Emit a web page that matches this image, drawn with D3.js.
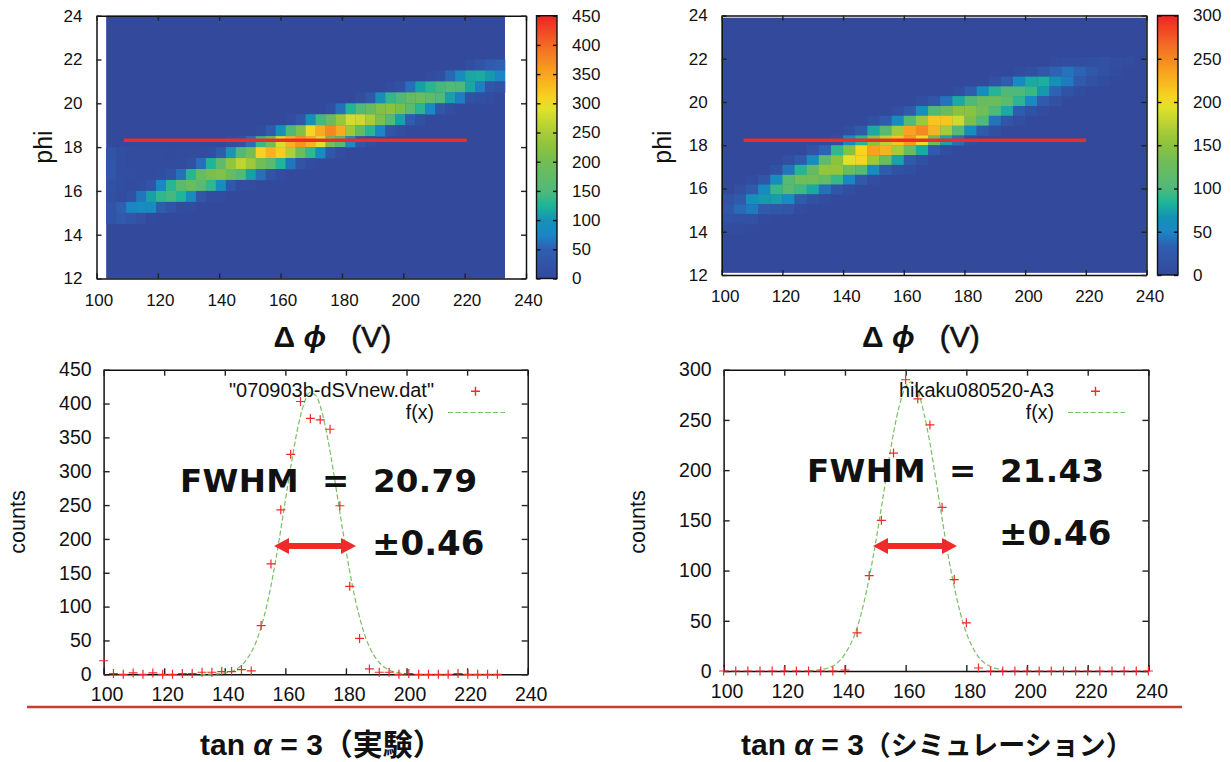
<!DOCTYPE html>
<html>
<head>
<meta charset="utf-8">
<script src="https://cdnjs.cloudflare.com/ajax/libs/d3/7.8.5/d3.min.js"></script>
<style>
  html, body { margin: 0; padding: 0; background: #fff; }
  text { font-family: "Liberation Sans", sans-serif; fill: #111; }
</style>
</head>
<body>
<div id="chart"></div>
<script>
// heat map bins: lower phi edge of each row, first filled column, then counts
var expPhi = [21.5, 21, 20.5, 20, 19.5, 19, 18.5, 18, 17.5, 17, 16.5, 16, 15.5, 15, 14.5];
var expStart = [36, 32, 28, 25, 22, 18, 15, 12, 0, 0, 0, 0, 0, 0, 0];
var expCounts = [
  [12, 25, 40, 50],
  [10, 15, 55, 85, 115, 118, 105, 75],
  [10, 20, 60, 110, 130, 145, 155, 150, 115, 70, 30, 22],
  [12, 35, 95, 135, 150, 180, 190, 172, 150, 110, 70, 20, 15, 10],
  [15, 60, 125, 155, 185, 215, 225, 205, 165, 130, 80, 30, 12],
  [10, 30, 95, 145, 190, 235, 280, 275, 250, 210, 155, 110, 45, 15],
  [10, 40, 95, 150, 215, 305, 345, 375, 345, 240, 175, 130, 75, 25, 12],
  [12, 18, 60, 140, 200, 285, 340, 365, 340, 290, 205, 160, 85, 30, 12],
  [25, 12, 8, 6, 6, 6, 5, 6, 6, 8, 12, 45, 105, 150, 200, 310, 340, 315, 255, 190, 135, 85, 35, 10],
  [30, 12, 8, 8, 6, 6, 6, 10, 18, 60, 125, 170, 230, 265, 240, 200, 165, 125, 65, 25, 10],
  [28, 12, 12, 10, 10, 12, 22, 60, 130, 185, 205, 215, 185, 155, 110, 60, 22, 10],
  [18, 12, 10, 12, 25, 75, 130, 165, 190, 165, 135, 90, 35, 10, 8],
  [15, 10, 18, 65, 110, 135, 145, 125, 85, 30, 10, 8],
  [25, 50, 75, 85, 85, 45, 25, 8, 8],
  [25, 42, 28, 18, 4]
];

var simPhi = [21.63, 21.18, 20.72, 20.27, 19.82, 19.36, 18.91, 18.45, 18.0, 17.55, 17.09, 16.64, 16.18, 15.73, 15.28, 14.82, 14.37, 13.92];
var simStart = [27, 24, 22, 19, 16, 14, 12, 10, 9, 7, 5, 4, 2, 1, 0, 0, 0, 0];
var simCounts = [
  [5, 8, 8, 10, 12, 8, 4],
  [6, 10, 22, 35, 42, 35, 22, 12, 5],
  [12, 30, 55, 78, 80, 65, 45, 25, 12, 5],
  [8, 30, 60, 85, 100, 100, 92, 70, 35, 15, 5],
  [8, 18, 42, 78, 100, 122, 125, 112, 88, 55, 25, 12],
  [8, 25, 62, 100, 125, 150, 150, 130, 100, 78, 30, 14, 5],
  [10, 28, 60, 105, 160, 215, 215, 185, 140, 100, 42, 18, 8],
  [8, 28, 78, 108, 165, 235, 250, 225, 165, 105, 58, 25, 10],
  [10, 55, 85, 150, 175, 215, 240, 195, 125, 75, 40, 10],
  [15, 35, 90, 145, 205, 235, 225, 165, 125, 78, 25, 8],
  [10, 25, 58, 115, 150, 195, 205, 160, 125, 75, 28, 10],
  [12, 42, 85, 120, 155, 155, 125, 105, 60, 30, 12, 8],
  [6, 20, 58, 105, 130, 130, 118, 92, 52, 24, 8],
  [10, 28, 55, 92, 108, 95, 78, 40, 18, 8],
  [15, 28, 62, 70, 72, 58, 28, 12, 5],
  [22, 38, 45, 28, 22, 18, 6],
  [15, 14, 12, 3],
  [6, 4, 3]
];

// profile points under the heat maps
var expVolts = [100, 103.25, 106.5, 109.75, 113, 116.25, 119.5, 122.75, 126, 129.25, 132.5, 135.75, 139, 142.25, 145.5, 148.75, 152, 155.25, 158.5, 161.75, 165, 168.25, 171.5, 174.75, 178, 181.25, 184.5, 187.75, 191, 194.25, 197.5, 200.75, 204, 207.25, 210.5, 213.75, 217, 220.25, 223.5, 226.75, 230];
var expPoints = [20, 1, 0, 2, 0, 2, 0, 0, 1, 1, 3, 3, 4, 4, 7, 5, 72, 163, 243, 325, 403, 378, 376, 362, 249, 130, 53, 8, 3, 3, 0, 1, 0, 0, 0, 0, 1, 0, 0, 0, 0];
var simVolts = [100, 104, 108, 112, 116, 120, 124, 128, 132, 136, 140, 144, 148, 152, 156, 160, 164, 168, 172, 176, 180, 184, 188, 192, 196, 200, 204, 208, 212, 216, 220, 224, 228, 232, 236, 240];
var simPoints = [0, 0, 0, 0, 0, 0, 0, 0, 0, 0, 1, 38, 95, 150, 217, 290, 271, 245, 163, 91, 48, 3, 0, 0, 0, 0, 0, 0, 0, 0, 0, 0, 0, 0, 0, 0];

// fitted curves
var expFitX = [132, 136, 140, 144, 148, 150, 152, 154, 156, 158, 160, 162, 164, 166, 168, 170, 172, 174, 176, 178, 180, 182, 184, 186, 188, 190, 192, 194, 196, 198, 200];
var expFitY = [0, 0.4, 2, 8, 27, 44, 70, 104, 148, 200, 257, 312, 362, 398, 416, 412, 389, 348, 296, 239, 184, 134, 93, 61, 38, 23, 13, 7, 3.5, 1.7, 0.7];
var simFitX = [128, 132, 136, 140, 144, 146, 148, 150, 152, 154, 156, 158, 160, 162, 164, 166, 168, 170, 172, 174, 176, 178, 180, 182, 184, 186, 188, 190, 192];
var simFitY = [0.3, 1.4, 5, 17, 43, 65, 93, 126, 163, 201, 237, 265, 283, 288, 279, 257, 227, 190, 152, 115, 84, 58, 38, 24, 14, 8, 4.4, 2.3, 1.1];

var voltTicks = [100, 120, 140, 160, 180, 200, 220, 240];
var phiTicks = [12, 14, 16, 18, 20, 22, 24];
var expCountTicks = [0, 50, 100, 150, 200, 250, 300, 350, 400, 450];
var simCountTicks = [0, 50, 100, 150, 200, 250, 300];

var mapStops = [0, 0.111, 0.167, 0.222, 0.278, 0.333, 0.444, 0.5, 0.556, 0.644, 0.689, 0.778, 0.889, 1];
var mapColors = ["#33499c", "#2f5fb0", "#1a86c6", "#1492b5", "#1eb598", "#4fb97a", "#73bd55", "#8bc33f", "#a9cc37", "#e0e12c", "#f6d321", "#f9a51f", "#f26a25", "#ee2324"];

var svg = d3.select("#chart").append("svg")
    .attr("width", 1231)
    .attr("height", 762)
    .style("display", "block");

var defs = svg.append("defs");
var gradient = defs.append("linearGradient")
    .attr("id", "cbar")
    .attr("x1", 0).attr("y1", 1).attr("x2", 0).attr("y2", 0);
mapStops.forEach(function(s, i) {
  gradient.append("stop").attr("offset", s).attr("stop-color", mapColors[i]);
});

// inward ticks on all four sides, labels only bottom and left
function frame(g, x, y, xTicks, yTicks, w, h, o) {
  var fs = o.fontSize;
  var b = g.append("g").attr("transform", "translate(0," + h + ")")
      .call(d3.axisBottom(x).tickValues(xTicks).tickSize(-o.tick).tickSizeOuter(0).tickPadding(o.padX));
  var l = g.append("g")
      .call(d3.axisLeft(y).tickValues(yTicks).tickSize(-o.tick).tickSizeOuter(0).tickPadding(o.padY));
  g.append("g")
      .call(d3.axisTop(x).tickValues(xTicks).tickSize(-o.tick).tickSizeOuter(0).tickFormat(""));
  g.append("g").attr("transform", "translate(" + w + ",0)")
      .call(d3.axisRight(y).tickValues(yTicks).tickSize(-o.tick).tickSizeOuter(0).tickFormat(""));
  g.selectAll(".domain").attr("stroke", "#111").attr("stroke-width", 1.5);
  g.selectAll(".tick line").attr("stroke", "#222").attr("stroke-width", 1.4);
  g.selectAll(".tick text").style("font-size", fs + "px").attr("font-family", null);
  b.selectAll(".tick text").attr("dx", o.dx);
}

function heatPanel(o) {
  var w = o.right - o.left, h = o.bottom - o.top;
  var g = svg.append("g").attr("transform", "translate(" + o.left + "," + o.top + ")");
  var x = d3.scaleLinear().domain([100, 240]).range([0, w]);
  var y = d3.scaleLinear().domain([12, 24]).range([h, 0]);
  var color = d3.scaleLinear().domain(mapStops.map(function(s) { return s * o.max; })).range(mapColors).clamp(true);

  g.append("rect")
      .attr("x", x(o.x0))
      .attr("y", y(o.phiTop))
      .attr("width", x(o.x0 + o.step * o.cols) - x(o.x0))
      .attr("height", y(o.phiBottom) - y(o.phiTop))
      .attr("fill", color(0));

  var cells = [];
  o.phi.forEach(function(p, r) {
    o.counts[r].forEach(function(c, k) {
      cells.push({phi: p, col: o.start[r] + k, count: c});
    });
  });
  g.selectAll("rect.cell").data(cells).enter().append("rect")
      .attr("class", "cell")
      .attr("x", function(d) { return x(o.x0 + d.col * o.step); })
      .attr("y", function(d) { return y(d.phi + o.rowH); })
      .attr("width", x(o.x0 + o.step) - x(o.x0) + 0.3)
      .attr("height", y(0) - y(o.rowH) + 0.3)
      .attr("fill", function(d) { return color(d.count); });

  // red marker line across the ridge
  g.append("line")
      .attr("x1", x(o.lineFrom)).attr("x2", x(o.lineTo))
      .attr("y1", y(o.linePhi)).attr("y2", y(o.linePhi))
      .attr("stroke", "#ee2a2a").attr("stroke-width", 3.6);

  frame(g, x, y, voltTicks, phiTicks, w, h, {tick: 5, padX: 15, padY: 14, fontSize: 17, dx: o.labelDx});

  // colour bar
  var cb = svg.append("g").attr("transform", "translate(" + o.barLeft + "," + o.top + ")");
  var cy = d3.scaleLinear().domain([0, o.max]).range([h, 0]);
  cb.append("rect").attr("width", o.barWidth).attr("height", h).attr("fill", "url(#cbar)");
  cb.append("g")
      .call(d3.axisLeft(cy).tickValues(o.barTicks).tickSize(-4).tickSizeOuter(0).tickFormat(""));
  cb.append("g").attr("transform", "translate(" + o.barWidth + ",0)")
      .call(d3.axisRight(cy).tickValues(o.barTicks).tickSize(-4).tickSizeOuter(0).tickPadding(15));
  cb.append("rect").attr("width", o.barWidth).attr("height", h).attr("fill", "none")
      .attr("stroke", "#111").attr("stroke-width", 1.4);
  cb.selectAll(".domain").attr("stroke", "none");
  cb.selectAll(".tick line").attr("stroke", "#111").attr("stroke-width", 1.4);
  cb.selectAll(".tick text").style("font-size", "17px").attr("font-family", null);

  // axis titles
  svg.append("text")
      .attr("transform", "translate(" + o.phiX + ",147) rotate(-90)")
      .style("text-anchor", "middle")
      .style("font-size", "25px")
      .text("phi");
  var t = svg.append("text")
      .attr("x", o.titleX).attr("y", 347)
      .style("font-size", "30px")
      .style("font-weight", "bold")
      .style("white-space", "pre");
  t.append("tspan").text("Δ ");
  t.append("tspan").style("font-style", "italic").text("ϕ");
  t.append("tspan")
      .style("font-weight", "normal")
      .style("stroke", "#111")
      .style("stroke-width", 0.6)
      .attr("dx", 25)
      .text("(V)");
}

function profilePanel(o) {
  var w = o.right - o.left, h = o.bottom - o.top;
  var g = svg.append("g").attr("transform", "translate(" + o.left + "," + o.top + ")");
  var x = d3.scaleLinear().domain([100, 240]).range([0, w]);
  var y = d3.scaleLinear().domain([0, o.max]).range([h, 0]);

  var curve = d3.line()
      .x(function(d) { return x(d[0]); })
      .y(function(d) { return y(d[1]); })
      .curve(d3.curveMonotoneX);

  frame(g, x, y, voltTicks, o.ticks, w, h, {tick: 6, padX: 13, padY: 12, fontSize: 19.5, dx: 3});

  g.append("path")
      .datum(d3.zip(o.fitX, o.fitY))
      .attr("d", curve)
      .attr("fill", "none")
      .attr("stroke", "#79bf63")
      .attr("stroke-width", 1.2)
      .attr("stroke-dasharray", "5,2.5");

  g.selectAll("path.pt").data(d3.zip(o.volts, o.points)).enter().append("path")
      .attr("class", "pt")
      .attr("d", function(d) {
        return "M" + (x(d[0]) - 4.5) + "," + y(d[1]) + "h9M" + x(d[0]) + "," + (y(d[1]) - 4.5) + "v9";
      })
      .attr("fill", "none")
      .attr("stroke", "#ee2a2a")
      .attr("stroke-width", 1.2);

  // key
  svg.append("text")
      .attr("x", o.keyX).attr("y", 397)
      .style("text-anchor", "end")
      .style("font-size", "19.5px")
      .attr("textLength", o.keyLen)
      .attr("lengthAdjust", "spacingAndGlyphs")
      .text(o.key);
  svg.append("text")
      .attr("x", o.keyX).attr("y", 419)
      .style("text-anchor", "end")
      .style("font-size", "19.5px")
      .text("f(x)");
  svg.append("path")
      .attr("d", "M" + (o.keyX + 37) + ",391.2h9M" + (o.keyX + 41.5) + ",386.7v9")
      .attr("fill", "none").attr("stroke", "#ee2a2a").attr("stroke-width", 1.4);
  svg.append("line")
      .attr("x1", o.keyX + 14).attr("x2", o.keyX + 71)
      .attr("y1", 412.5).attr("y2", 412.5)
      .attr("stroke", "#79bf63").attr("stroke-width", 1.2).attr("stroke-dasharray", "5,2.5");

  svg.append("text")
      .attr("transform", "translate(" + o.countsX + ",522) rotate(-90)")
      .style("text-anchor", "middle")
      .style("font-size", "21.5px")
      .text("counts");

  // annotation text and double arrow
  svg.append("text")
      .attr("x", o.fwhmX).attr("y", o.fwhmY)
      .style("font-family", "DejaVu Sans")
      .style("font-weight", "bold")
      .style("font-size", "32.5px")
      .style("white-space", "pre")
      .attr("textLength", 297)
      .text("FWHM  =  " + o.fwhm);
  svg.append("text")
      .attr("x", o.errX).attr("y", o.errY)
      .style("font-family", "DejaVu Sans")
      .style("font-weight", "bold")
      .style("font-size", "34px")
      .text("±0.46");
  var ax = o.arrowFrom, bx = o.arrowTo, ay = o.arrowY;
  svg.append("path")
      .attr("d", "M" + ax + "," + ay + "L" + (ax + 15) + "," + (ay - 8) + "V" + (ay - 3) + "H" + (bx - 15) + "V" + (ay - 8) +
           "L" + bx + "," + ay + "L" + (bx - 15) + "," + (ay + 8) + "V" + (ay + 3) + "H" + (ax + 15) + "V" + (ay + 8) + "Z")
      .attr("fill", "#ee2a2a");
}

heatPanel({
  left: 96.5, right: 526, top: 15.7, bottom: 278.5,
  x0: 103.15, step: 3.25, cols: 40, phiTop: 24, phiBottom: 12, rowH: 0.5,
  phi: expPhi, start: expStart, counts: expCounts,
  max: 450, barLeft: 536.5, barWidth: 20.5, barTicks: expCountTicks,
  lineFrom: 108.9, lineTo: 220.7, linePhi: 18.31,
  labelDx: 2, phiX: 52, titleX: 273.5
});

heatPanel({
  left: 721.7, right: 1146.5, top: 15.5, bottom: 275,
  x0: 100, step: 4, cols: 35, phiTop: 23.9, phiBottom: 12.1, rowH: 0.4538,
  phi: simPhi, start: simStart, counts: simCounts,
  max: 300, barLeft: 1157.5, barWidth: 20.5, barTicks: simCountTicks,
  lineFrom: 107.2, lineTo: 220.1, linePhi: 18.23,
  labelDx: 3, phiX: 671, titleX: 862
});

profilePanel({
  left: 103.6, right: 527.7, top: 369.7, bottom: 674.3, max: 450, ticks: expCountTicks,
  volts: expVolts, points: expPoints, fitX: expFitX, fitY: expFitY,
  key: "\"070903b-dSVnew.dat\"", keyX: 434, keyLen: 205, countsX: 25,
  fwhm: "20.79", fwhmX: 180, fwhmY: 492, errX: 372, errY: 555,
  arrowFrom: 274, arrowTo: 356, arrowY: 546
});

profilePanel({
  left: 723.6, right: 1148.4, top: 369.7, bottom: 671, max: 300, ticks: simCountTicks,
  volts: simVolts, points: simPoints, fitX: simFitX, fitY: simFitY,
  key: "hikaku080520-A3", keyX: 1054, keyLen: 155, countsX: 645,
  fwhm: "21.43", fwhmX: 807, fwhmY: 482, errX: 999, errY: 545,
  arrowFrom: 873, arrowTo: 957, arrowY: 546
});

// divider and panel captions
svg.append("line")
    .attr("x1", 27).attr("x2", 1182)
    .attr("y1", 707).attr("y2", 707)
    .attr("stroke", "#c4402f").attr("stroke-width", 2.5);

function caption(xPos, tail, tailSize) {
  var t = svg.append("text")
      .attr("x", xPos).attr("y", 755)
      .style("font-size", "30px")
      .style("font-weight", "bold");
  t.append("tspan").text("tan ");
  t.append("tspan").style("font-style", "italic").text("α");
  t.append("tspan").text(" = 3");
  t.append("tspan")
      .style("font-family", "'Noto Sans CJK JP'")
      .style("font-size", tailSize + "px")
      .text(tail);
}
caption(200, "（実験）", 30);
caption(741, "（シミュレーション）", 27);
</script>
</body>
</html>
